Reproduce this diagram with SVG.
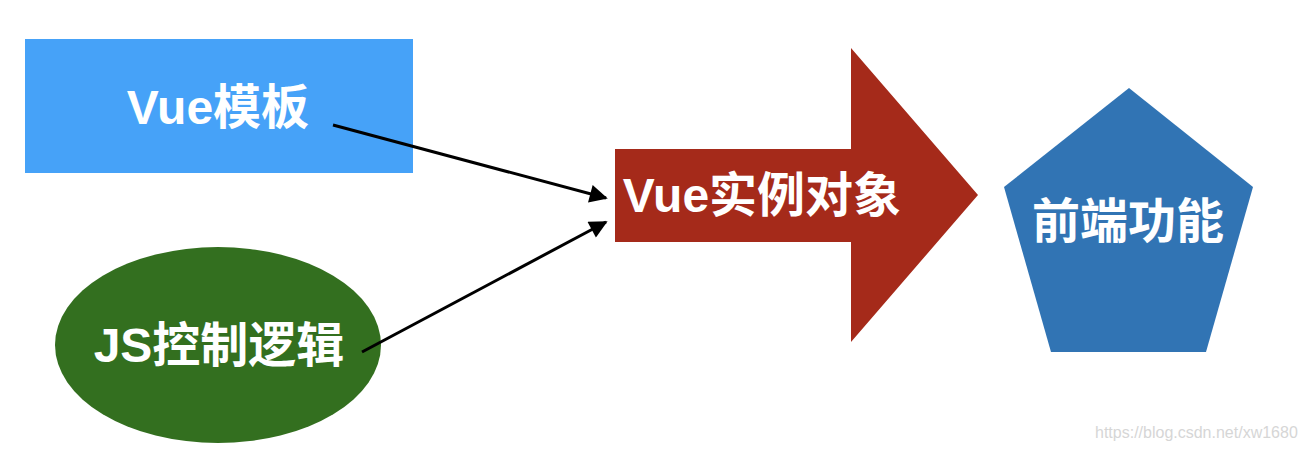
<svg xmlns="http://www.w3.org/2000/svg" width="1304" height="452" viewBox="0 0 1304 452">
<style>
.lbl{font-family:"Liberation Sans","Noto Sans CJK SC",sans-serif;font-weight:bold;font-size:48px;fill:#ffffff;text-anchor:middle}
.conn{stroke:#000;stroke-width:3;fill:none}
.wm{font-family:"Liberation Sans",sans-serif;font-size:16px;fill:#d6d6d6}
</style>
<defs>
<marker id="ah" viewBox="0 0 10 10" refX="9" refY="5" markerWidth="6.5" markerHeight="6" markerUnits="strokeWidth" orient="auto">
<path d="M0,0 L10,5 L0,10 Z" fill="#000"/>
</marker>
</defs>
<rect width="1304" height="452" fill="#ffffff"/>
<g id="vue-template">
<rect x="25" y="39" width="388" height="134" fill="#46a2f8"/>
<text class="lbl" x="218" y="124">Vue模板</text>
</g>
<g id="js-logic">
<ellipse cx="218" cy="345" rx="163" ry="98" fill="#336f1f"/>
<text class="lbl" x="219" y="362">JS控制逻辑</text>
</g>
<g id="vue-instance">
<polygon points="615,149 851,149 851,48 978,195 851,342 851,242 615,242" fill="#a52a1a"/>
<text class="lbl" x="762" y="212">Vue实例对象</text>
</g>
<g id="frontend">
<polygon points="1129,88 1253,187 1206,352 1051,352 1004,187" fill="#3174b4"/>
<text class="lbl" x="1128" y="238">前端功能</text>
</g>
<g id="connectors">
<line class="conn" x1="333" y1="125" x2="606" y2="198" marker-end="url(#ah)"/>
<line class="conn" x1="362" y1="352" x2="606" y2="222" marker-end="url(#ah)"/>
</g>
<text class="wm" x="1095" y="438">https://blog.csdn.net/xw1680</text>
</svg>
